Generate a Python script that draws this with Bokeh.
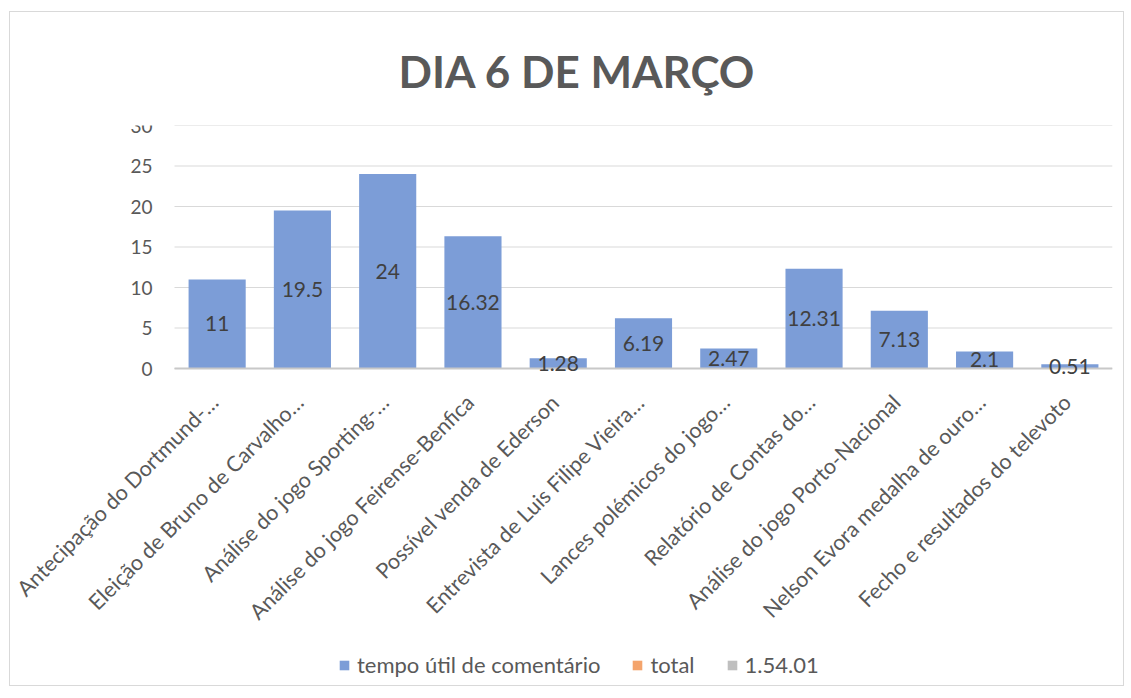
from bokeh.plotting import figure
from bokeh.models import Range1d, ColumnDataSource, Legend, LegendItem, Title
from bokeh.core.properties import value
from bokeh.embed import file_html
from bokeh.resources import INLINE
import math

categories = [
    "Antecipação do Dortmund-…",
    "Eleição de Bruno de Carvalho…",
    "Análise do jogo Sporting-…",
    "Análise do jogo Feirense-Benfica",
    "Possível venda de Ederson",
    "Entrevista de Luis Filipe Vieira…",
    "Lances polémicos do jogo…",
    "Relatório de Contas do…",
    "Análise do jogo Porto-Nacional",
    "Nelson Evora medalha de ouro…",
    "Fecho e resultados do televoto",
]
tempo_util = [11, 19.5, 24, 16.32, 1.28, 6.19, 2.47, 12.31, 7.13, 2.1, 0.51]
value_labels = ["11", "19.5", "24", "16.32", "1.28", "6.19", "2.47", "12.31", "7.13", "2.1", "0.51"]
y_ticks = [0, 5, 10, 15, 20, 25, 30]
series_names = ["tempo útil de comentário", "total", "1.54.01"]
series_colors = ["#7c9dd7", "#f4a46c", "#bfbfbf"]

FONT = "Lato"
TXT = "#595959"

# layout: category slots 0..N along x, value axis 0..30 in the top PLOT_H px of the frame;
# the frame also extends left (tick labels) and down (slanted labels, legend)
N = len(categories)
SLOT_PX = 85.27
LEFT_PX = 162
PLOT_H = 243
FRAME_H = 560
Y_MAX = 30
x_min = -LEFT_PX / SLOT_PX
y_min = -(FRAME_H - PLOT_H) * Y_MAX / PLOT_H

pos = [i + 0.5 for i in range(N)]
src = ColumnDataSource(dict(
    x=pos,
    cat=categories,
    val=tempo_util,
    mid=[v / 2 for v in tempo_util],
    lab=value_labels,
    zero=[0] * N,
))
tick_src = ColumnDataSource(dict(
    y=y_ticks,
    x0=[0] * len(y_ticks),
    x1=[N] * len(y_ticks),
    txt=[str(t) for t in y_ticks],
))

p = figure(frame_width=int(round(LEFT_PX + N * SLOT_PX)), frame_height=FRAME_H,
           x_range=Range1d(x_min, N), y_range=Range1d(y_min, Y_MAX),
           output_backend="svg", toolbar_location=None,
           min_border_left=2, min_border_right=11, min_border_top=113, min_border_bottom=0)
p.styles = {"border": "1px solid #d9d9d9", "margin-left": "9px", "margin-top": "11px"}
p.xaxis.visible = False
p.yaxis.visible = False
p.xgrid.grid_line_color = None
p.ygrid.grid_line_color = None
p.outline_line_color = None
p.background_fill_color = "white"

t = Title(text="DIA 6 DE MARÇO", align="left", offset=386, text_font=FONT,
          text_font_size="44px", text_font_style="bold", text_color=TXT, standoff=58)
p.add_layout(t, "above")

# horizontal grid lines and value-axis labels
p.segment(x0="x0", x1="x1", y0="y", y1="y", source=tick_src, line_color="#d9d9d9",
          line_width=1)
p.text(x="x0", y="y", text="txt", source=tick_src, x_offset=-22, text_align="right",
       text_baseline="middle", text_font=value(FONT), text_font_size="19px", text_color=TXT)

r0 = p.vbar(x="x", top="val", width=0.67, source=src, fill_color=series_colors[0],
            line_color=None)
# the two other series carry no visible bars; zero-height bars give them legend swatches
r1 = p.vbar(x=pos[:1], top=[0], width=0.67, fill_color=series_colors[1], line_color=None)
r2 = p.vbar(x=pos[:1], top=[0], width=0.67, fill_color=series_colors[2], line_color=None)

# category axis line
p.segment(x0=[0], x1=[N], y0=[0], y1=[0], line_color="#c8c8c8", line_width=2)

lbl = p.text(x="x", y="mid", text="lab", source=src, text_align="center",
             text_baseline="middle", text_font=value(FONT), text_font_size="21px",
             text_color="#404040")
lbl.level = "overlay"

# slanted category labels
p.text(x="x", y="zero", text="cat", source=src, angle=math.pi / 4,
       text_align="right", text_baseline="middle", x_offset=-3, y_offset=30,
       text_font=value(FONT), text_font_size="21.5px", text_color=TXT)

legend = Legend(items=[LegendItem(label=series_names[0], renderers=[r0]),
                       LegendItem(label=series_names[1], renderers=[r1]),
                       LegendItem(label=series_names[2], renderers=[r2])],
                orientation="horizontal", location=(326, 7),
                label_text_font=FONT, label_text_font_size="22px", label_text_color=TXT,
                glyph_width=12, glyph_height=12, spacing=31, label_standoff=7,
                border_line_color=None, background_fill_alpha=0, margin=0, padding=0)
p.add_layout(legend, "center")

open("out.html", "w").write(file_html(p, INLINE))
